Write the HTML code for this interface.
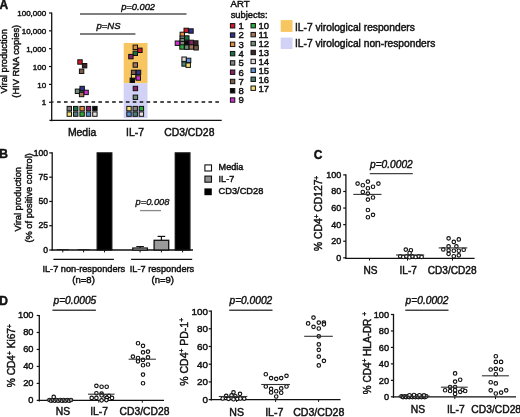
<!DOCTYPE html><html><head><meta charset="utf-8"><style>html,body{margin:0;padding:0;background:#fff;overflow:hidden;}svg{display:block;will-change:transform;filter:blur(0.45px);}text{font-family:"Liberation Sans", sans-serif;stroke:#111;}</style></head><body>
<svg width="520" height="417" viewBox="0 0 520 417">
<rect x="0" y="0" width="520" height="417" fill="#fff"/>
<text x="-0.5" y="8.6" font-size="12" text-anchor="start" font-weight="bold" fill="#111" style="stroke-width:0.45px">A</text>
<rect x="123.7" y="43" width="23.8" height="40.2" fill="#f8c660"/>
<rect x="123.7" y="83.2" width="23.8" height="35" fill="#d2d2f6"/>
<line x1="51.7" y1="12.4" x2="51.7" y2="121.3" stroke="#111" stroke-width="1.3"/>
<line x1="49.0" y1="13.0" x2="51.7" y2="13.0" stroke="#111" stroke-width="1.2"/>
<text x="46.2" y="16.2" font-size="8" text-anchor="end" fill="#111" style="stroke-width:0.45px">100,000</text>
<line x1="49.0" y1="30.85" x2="51.7" y2="30.85" stroke="#111" stroke-width="1.2"/>
<text x="46.2" y="34.050000000000004" font-size="8" text-anchor="end" fill="#111" style="stroke-width:0.45px">10,000</text>
<line x1="49.0" y1="48.7" x2="51.7" y2="48.7" stroke="#111" stroke-width="1.2"/>
<text x="46.2" y="51.900000000000006" font-size="8" text-anchor="end" fill="#111" style="stroke-width:0.45px">1,000</text>
<line x1="49.0" y1="66.55000000000001" x2="51.7" y2="66.55000000000001" stroke="#111" stroke-width="1.2"/>
<text x="46.2" y="69.75000000000001" font-size="8" text-anchor="end" fill="#111" style="stroke-width:0.45px">100</text>
<line x1="49.0" y1="84.4" x2="51.7" y2="84.4" stroke="#111" stroke-width="1.2"/>
<text x="46.2" y="87.60000000000001" font-size="8" text-anchor="end" fill="#111" style="stroke-width:0.45px">10</text>
<line x1="49.0" y1="102.25" x2="51.7" y2="102.25" stroke="#111" stroke-width="1.2"/>
<text x="46.2" y="105.45" font-size="8" text-anchor="end" fill="#111" style="stroke-width:0.45px">1</text>
<line x1="49.4" y1="120.3" x2="221.7" y2="120.3" stroke="#111" stroke-width="1.3"/>
<line x1="57.1" y1="102" x2="219.4" y2="102" stroke="#111" stroke-width="1.6" stroke-dasharray="3.6 3.28"/>
<line x1="51.7" y1="102" x2="53.6" y2="102" stroke="#111" stroke-width="1.2"/>
<text x="82.1" y="136.4" font-size="10.4" text-anchor="middle" fill="#111" style="stroke-width:0.45px">Media</text>
<text x="135" y="136.4" font-size="10.4" text-anchor="middle" fill="#111" style="stroke-width:0.45px">IL-7</text>
<text x="189.3" y="136.4" font-size="10.4" text-anchor="middle" fill="#111" style="stroke-width:0.45px">CD3/CD28</text>
<text x="7.2" y="61.3" font-size="9.3" text-anchor="middle" fill="#111" transform="rotate(-90 7.2 61.3)" style="stroke-width:0.45px">Viral production</text>
<text x="18.7" y="61.3" font-size="9.3" text-anchor="middle" fill="#111" transform="rotate(-90 18.7 61.3)" style="stroke-width:0.45px">(HIV RNA copies)</text>
<text x="138.1" y="10" font-size="9.3" text-anchor="middle" font-style="italic" fill="#111" style="stroke-width:0.4px">p=0.002</text>
<line x1="80" y1="14" x2="186.5" y2="14" stroke="#555" stroke-width="1.3"/>
<text x="108.5" y="28.6" font-size="9.5" text-anchor="middle" font-style="italic" fill="#111" style="stroke-width:0.4px">p=NS</text>
<line x1="80" y1="34" x2="135.4" y2="34" stroke="#555" stroke-width="1.3"/>
<rect x="77.80" y="59.80" width="4.4" height="4.4" fill="#d01a2a" stroke="#111" stroke-width="1"/>
<rect x="82.40" y="63.50" width="4.4" height="4.4" fill="#3a2626" stroke="#111" stroke-width="1"/>
<rect x="79.40" y="69.10" width="4.4" height="4.4" fill="#7a5c48" stroke="#111" stroke-width="1"/>
<rect x="79.30" y="89.30" width="4.4" height="4.4" fill="#1f7040" stroke="#111" stroke-width="1"/>
<rect x="79.95" y="86.30" width="4.4" height="4.4" fill="#2f3290" stroke="#111" stroke-width="1"/>
<rect x="75.30" y="89.10" width="4.4" height="4.4" fill="#6f8e78" stroke="#111" stroke-width="1"/>
<rect x="83.90" y="90.20" width="4.4" height="4.4" fill="#d030d0" stroke="#111" stroke-width="1"/>
<rect x="79.40" y="92.30" width="4.4" height="4.4" fill="#a87458" stroke="#111" stroke-width="1"/>
<rect x="67.10" y="106.40" width="4.4" height="4.4" fill="#858080" stroke="#111" stroke-width="1"/>
<rect x="73.50" y="106.40" width="4.4" height="4.4" fill="#1f7040" stroke="#111" stroke-width="1"/>
<rect x="79.90" y="106.40" width="4.4" height="4.4" fill="#e08a3c" stroke="#111" stroke-width="1"/>
<rect x="86.30" y="106.40" width="4.4" height="4.4" fill="#8a2068" stroke="#111" stroke-width="1"/>
<rect x="92.70" y="106.40" width="4.4" height="4.4" fill="#0a0a0a" stroke="#111" stroke-width="1"/>
<rect x="67.10" y="111.90" width="4.4" height="4.4" fill="#f2e070" stroke="#111" stroke-width="1"/>
<rect x="73.50" y="111.90" width="4.4" height="4.4" fill="#4e8078" stroke="#111" stroke-width="1"/>
<rect x="79.90" y="111.90" width="4.4" height="4.4" fill="#2faa3c" stroke="#111" stroke-width="1"/>
<rect x="86.30" y="111.90" width="4.4" height="4.4" fill="#5a92d2" stroke="#111" stroke-width="1"/>
<rect x="92.70" y="111.90" width="4.4" height="4.4" fill="#e4dcd8" stroke="#111" stroke-width="1"/>
<rect x="133.10" y="45.10" width="4.4" height="4.4" fill="#e08a3c" stroke="#111" stroke-width="1"/>
<rect x="137.70" y="48.10" width="4.4" height="4.4" fill="#d01a2a" stroke="#111" stroke-width="1"/>
<rect x="133.10" y="51.10" width="4.4" height="4.4" fill="#1f7040" stroke="#111" stroke-width="1"/>
<rect x="128.70" y="54.40" width="4.4" height="4.4" fill="#8a2068" stroke="#111" stroke-width="1"/>
<rect x="133.10" y="62.80" width="4.4" height="4.4" fill="#a87458" stroke="#111" stroke-width="1"/>
<rect x="131.40" y="70.20" width="4.4" height="4.4" fill="#7a5c48" stroke="#111" stroke-width="1"/>
<rect x="136.30" y="70.20" width="4.4" height="4.4" fill="#2f3290" stroke="#111" stroke-width="1"/>
<rect x="131.40" y="74.50" width="4.4" height="4.4" fill="#f2e070" stroke="#111" stroke-width="1"/>
<rect x="130.10" y="78.10" width="4.4" height="4.4" fill="#0a0a0a" stroke="#111" stroke-width="1"/>
<rect x="136.10" y="75.80" width="4.4" height="4.4" fill="#d030d0" stroke="#111" stroke-width="1"/>
<rect x="133.20" y="86.30" width="4.4" height="4.4" fill="#8a2068" stroke="#111" stroke-width="1"/>
<rect x="133.20" y="95.10" width="4.4" height="4.4" fill="#6f8e78" stroke="#111" stroke-width="1"/>
<rect x="126.80" y="106.40" width="4.4" height="4.4" fill="#f2e070" stroke="#111" stroke-width="1"/>
<rect x="133.00" y="106.40" width="4.4" height="4.4" fill="#858080" stroke="#111" stroke-width="1"/>
<rect x="139.20" y="106.40" width="4.4" height="4.4" fill="#2faa3c" stroke="#111" stroke-width="1"/>
<rect x="126.80" y="111.90" width="4.4" height="4.4" fill="#5a92d2" stroke="#111" stroke-width="1"/>
<rect x="133.00" y="111.90" width="4.4" height="4.4" fill="#4e8078" stroke="#111" stroke-width="1"/>
<rect x="139.20" y="111.90" width="4.4" height="4.4" fill="#e4dcd8" stroke="#111" stroke-width="1"/>
<rect x="184.00" y="28.20" width="4.4" height="4.4" fill="#d01a2a" stroke="#111" stroke-width="1"/>
<rect x="188.80" y="28.80" width="4.4" height="4.4" fill="#2f3290" stroke="#111" stroke-width="1"/>
<rect x="180.10" y="32.20" width="4.4" height="4.4" fill="#e08a3c" stroke="#111" stroke-width="1"/>
<rect x="180.10" y="36.00" width="4.4" height="4.4" fill="#858080" stroke="#111" stroke-width="1"/>
<rect x="184.60" y="35.80" width="4.4" height="4.4" fill="#1f7040" stroke="#111" stroke-width="1"/>
<rect x="180.10" y="38.40" width="4.4" height="4.4" fill="#6f8e78" stroke="#111" stroke-width="1"/>
<rect x="175.20" y="41.00" width="4.4" height="4.4" fill="#d030d0" stroke="#111" stroke-width="1"/>
<rect x="180.10" y="41.40" width="4.4" height="4.4" fill="#858080" stroke="#111" stroke-width="1"/>
<rect x="184.60" y="40.80" width="4.4" height="4.4" fill="#0a0a0a" stroke="#111" stroke-width="1"/>
<rect x="189.10" y="40.20" width="4.4" height="4.4" fill="#8a2068" stroke="#111" stroke-width="1"/>
<rect x="193.60" y="40.80" width="4.4" height="4.4" fill="#3a2626" stroke="#111" stroke-width="1"/>
<rect x="179.80" y="44.80" width="4.4" height="4.4" fill="#2faa3c" stroke="#111" stroke-width="1"/>
<rect x="184.60" y="45.00" width="4.4" height="4.4" fill="#6f8e78" stroke="#111" stroke-width="1"/>
<rect x="189.10" y="44.80" width="4.4" height="4.4" fill="#a87458" stroke="#111" stroke-width="1"/>
<rect x="193.90" y="45.60" width="4.4" height="4.4" fill="#7a5c48" stroke="#111" stroke-width="1"/>
<rect x="181.90" y="57.00" width="4.4" height="4.4" fill="#e4dcd8" stroke="#111" stroke-width="1"/>
<rect x="186.40" y="58.20" width="4.4" height="4.4" fill="#5a92d2" stroke="#111" stroke-width="1"/>
<rect x="181.90" y="61.80" width="4.4" height="4.4" fill="#4e8078" stroke="#111" stroke-width="1"/>
<rect x="186.00" y="63.00" width="4.4" height="4.4" fill="#f2e070" stroke="#111" stroke-width="1"/>
<text x="230.6" y="7" font-size="9.6" text-anchor="start" fill="#111" style="stroke-width:0.45px">ART</text>
<text x="230.7" y="17.6" font-size="9.35" text-anchor="start" fill="#111" style="stroke-width:0.45px">subjects:</text>
<rect x="230.40" y="23.60" width="4.4" height="4.4" fill="#d01a2a" stroke="#111" stroke-width="1"/>
<text x="238.4" y="29.1" font-size="9.5" text-anchor="start" fill="#111" style="stroke-width:0.45px">1</text>
<rect x="230.40" y="32.88" width="4.4" height="4.4" fill="#2f3290" stroke="#111" stroke-width="1"/>
<text x="238.4" y="38.379999999999995" font-size="9.5" text-anchor="start" fill="#111" style="stroke-width:0.45px">2</text>
<rect x="230.40" y="42.16" width="4.4" height="4.4" fill="#e08a3c" stroke="#111" stroke-width="1"/>
<text x="238.4" y="47.66" font-size="9.5" text-anchor="start" fill="#111" style="stroke-width:0.45px">3</text>
<rect x="230.40" y="51.44" width="4.4" height="4.4" fill="#1f7040" stroke="#111" stroke-width="1"/>
<text x="238.4" y="56.94" font-size="9.5" text-anchor="start" fill="#111" style="stroke-width:0.45px">4</text>
<rect x="230.40" y="60.72" width="4.4" height="4.4" fill="#858080" stroke="#111" stroke-width="1"/>
<text x="238.4" y="66.22" font-size="9.5" text-anchor="start" fill="#111" style="stroke-width:0.45px">5</text>
<rect x="230.40" y="70.00" width="4.4" height="4.4" fill="#8a2068" stroke="#111" stroke-width="1"/>
<text x="238.4" y="75.5" font-size="9.5" text-anchor="start" fill="#111" style="stroke-width:0.45px">6</text>
<rect x="230.40" y="79.28" width="4.4" height="4.4" fill="#7a5c48" stroke="#111" stroke-width="1"/>
<text x="238.4" y="84.77999999999999" font-size="9.5" text-anchor="start" fill="#111" style="stroke-width:0.45px">7</text>
<rect x="230.40" y="88.56" width="4.4" height="4.4" fill="#0a0a0a" stroke="#111" stroke-width="1"/>
<text x="238.4" y="94.05999999999999" font-size="9.5" text-anchor="start" fill="#111" style="stroke-width:0.45px">8</text>
<rect x="230.40" y="97.84" width="4.4" height="4.4" fill="#d030d0" stroke="#111" stroke-width="1"/>
<text x="238.4" y="103.33999999999999" font-size="9.5" text-anchor="start" fill="#111" style="stroke-width:0.45px">9</text>
<rect x="251.00" y="23.50" width="4.4" height="4.4" fill="#2faa3c" stroke="#111" stroke-width="1"/>
<text x="258.4" y="29.0" font-size="9.5" text-anchor="start" fill="#111" style="stroke-width:0.45px">10</text>
<rect x="251.00" y="32.43" width="4.4" height="4.4" fill="#a87458" stroke="#111" stroke-width="1"/>
<text x="258.4" y="37.92999999999999" font-size="9.5" text-anchor="start" fill="#111" style="stroke-width:0.45px">11</text>
<rect x="251.00" y="41.36" width="4.4" height="4.4" fill="#6f8e78" stroke="#111" stroke-width="1"/>
<text x="258.4" y="46.86" font-size="9.5" text-anchor="start" fill="#111" style="stroke-width:0.45px">12</text>
<rect x="251.00" y="50.29" width="4.4" height="4.4" fill="#3a2626" stroke="#111" stroke-width="1"/>
<text x="258.4" y="55.78999999999999" font-size="9.5" text-anchor="start" fill="#111" style="stroke-width:0.45px">13</text>
<rect x="251.00" y="59.22" width="4.4" height="4.4" fill="#e4dcd8" stroke="#111" stroke-width="1"/>
<text x="258.4" y="64.72" font-size="9.5" text-anchor="start" fill="#111" style="stroke-width:0.45px">14</text>
<rect x="251.00" y="68.15" width="4.4" height="4.4" fill="#5a92d2" stroke="#111" stroke-width="1"/>
<text x="258.4" y="73.64999999999999" font-size="9.5" text-anchor="start" fill="#111" style="stroke-width:0.45px">15</text>
<rect x="251.00" y="77.08" width="4.4" height="4.4" fill="#4e8078" stroke="#111" stroke-width="1"/>
<text x="258.4" y="82.58" font-size="9.5" text-anchor="start" fill="#111" style="stroke-width:0.45px">16</text>
<rect x="251.00" y="86.01" width="4.4" height="4.4" fill="#f2e070" stroke="#111" stroke-width="1"/>
<text x="258.4" y="91.50999999999999" font-size="9.5" text-anchor="start" fill="#111" style="stroke-width:0.45px">17</text>
<rect x="280.7" y="20.1" width="11.8" height="11.8" fill="#f8c660"/>
<text x="295" y="30.9" font-size="10.22" text-anchor="start" fill="#111" style="stroke-width:0.45px">IL-7 virological responders</text>
<rect x="280.7" y="37.6" width="11.8" height="11.4" fill="#d2d2f6"/>
<text x="295" y="47.4" font-size="10.22" text-anchor="start" fill="#111" style="stroke-width:0.45px">IL-7 virological non-responders</text>
<text x="-0.8" y="158.1" font-size="12" text-anchor="start" font-weight="bold" fill="#111" style="stroke-width:0.45px">B</text>
<line x1="52.2" y1="152.3" x2="52.2" y2="250.6" stroke="#111" stroke-width="1.3"/>
<line x1="49.2" y1="250.0" x2="52.2" y2="250.0" stroke="#111" stroke-width="1.2"/>
<text x="48" y="252.6" font-size="8.5" text-anchor="end" fill="#111" style="stroke-width:0.45px">0</text>
<line x1="49.2" y1="225.725" x2="52.2" y2="225.725" stroke="#111" stroke-width="1.2"/>
<text x="48" y="228.325" font-size="8.5" text-anchor="end" fill="#111" style="stroke-width:0.45px">25</text>
<line x1="49.2" y1="201.45" x2="52.2" y2="201.45" stroke="#111" stroke-width="1.2"/>
<text x="48" y="204.04999999999998" font-size="8.5" text-anchor="end" fill="#111" style="stroke-width:0.45px">50</text>
<line x1="49.2" y1="177.175" x2="52.2" y2="177.175" stroke="#111" stroke-width="1.2"/>
<text x="48" y="179.775" font-size="8.5" text-anchor="end" fill="#111" style="stroke-width:0.45px">75</text>
<line x1="49.2" y1="152.9" x2="52.2" y2="152.9" stroke="#111" stroke-width="1.2"/>
<text x="48" y="155.5" font-size="8.5" text-anchor="end" fill="#111" style="stroke-width:0.45px">100</text>
<line x1="51.6" y1="250" x2="193" y2="250" stroke="#111" stroke-width="1.3"/>
<line x1="56.8" y1="249.6" x2="68.8" y2="249.6" stroke="#111" stroke-width="0.8"/>
<line x1="77.6" y1="249.6" x2="89.6" y2="249.6" stroke="#111" stroke-width="0.8"/>
<rect x="97.20" y="152.90" width="14.6" height="97.10" fill="#000" stroke="#111" stroke-width="1.3"/>
<rect x="132.80" y="248.06" width="14.6" height="1.94" fill="#fff" stroke="#111" stroke-width="1.3"/>
<line x1="140.1" y1="248.058" x2="140.1" y2="246.6015" stroke="#111" stroke-width="1.2"/>
<line x1="136.29999999999998" y1="246.6015" x2="143.9" y2="246.6015" stroke="#111" stroke-width="1.2"/>
<rect x="154.10" y="240.29" width="14.6" height="9.71" fill="#9a9a9a" stroke="#111" stroke-width="1.3"/>
<line x1="161.4" y1="240.29" x2="161.4" y2="236.406" stroke="#111" stroke-width="1.2"/>
<line x1="157.6" y1="236.406" x2="165.20000000000002" y2="236.406" stroke="#111" stroke-width="1.2"/>
<rect x="175.30" y="152.90" width="14.6" height="97.10" fill="#000" stroke="#111" stroke-width="1.3"/>
<line x1="62.8" y1="250" x2="62.8" y2="252.4" stroke="#111" stroke-width="1"/>
<line x1="83.6" y1="250" x2="83.6" y2="252.4" stroke="#111" stroke-width="1"/>
<line x1="104.5" y1="250" x2="104.5" y2="252.4" stroke="#111" stroke-width="1"/>
<line x1="140.1" y1="250" x2="140.1" y2="252.4" stroke="#111" stroke-width="1"/>
<line x1="161.4" y1="250" x2="161.4" y2="252.4" stroke="#111" stroke-width="1"/>
<line x1="182.6" y1="250" x2="182.6" y2="252.4" stroke="#111" stroke-width="1"/>
<line x1="53.4" y1="259.4" x2="113.9" y2="259.4" stroke="#111" stroke-width="1.3"/>
<line x1="131.1" y1="259.3" x2="192.2" y2="259.3" stroke="#111" stroke-width="1.3"/>
<text x="83.8" y="272.3" font-size="9.2" text-anchor="middle" fill="#111" style="stroke-width:0.45px">IL-7 non-responders</text>
<text x="83.6" y="282.5" font-size="9.5" text-anchor="middle" fill="#111" style="stroke-width:0.45px">(n=8)</text>
<text x="162" y="272.3" font-size="9.2" text-anchor="middle" fill="#111" style="stroke-width:0.45px">IL-7 responders</text>
<text x="162.7" y="282.5" font-size="9.5" text-anchor="middle" fill="#111" style="stroke-width:0.45px">(n=9)</text>
<text x="152.5" y="204.6" font-size="9.3" text-anchor="middle" font-style="italic" fill="#111" style="stroke-width:0.35px">p=0.008</text>
<line x1="140.1" y1="210.6" x2="161" y2="210.6" stroke="#888" stroke-width="1.3"/>
<text x="20.8" y="199.2" font-size="9.3" text-anchor="middle" fill="#111" transform="rotate(-90 20.8 199.2)" style="stroke-width:0.45px">Viral production</text>
<text x="31.6" y="197.9" font-size="9.3" text-anchor="middle" fill="#111" transform="rotate(-90 31.6 197.9)" style="stroke-width:0.45px">(% of positive control)</text>
<rect x="204.9" y="164.9" width="6.6" height="6.1" fill="#fff" stroke="#111" stroke-width="1.1"/>
<text x="218.6" y="170.3" font-size="9.1" text-anchor="start" fill="#111" style="stroke-width:0.45px">Media</text>
<rect x="204.9" y="176.1" width="6.6" height="6.1" fill="#909090" stroke="#111" stroke-width="1.1"/>
<text x="218.6" y="182" font-size="9.1" text-anchor="start" fill="#111" style="stroke-width:0.45px">IL-7</text>
<rect x="204.4" y="188.4" width="7.4" height="6.8" fill="#000"/>
<text x="218.6" y="194.2" font-size="9.25" text-anchor="start" fill="#111" style="stroke-width:0.45px">CD3/CD28</text>
<text x="313.8" y="158.8" font-size="12" text-anchor="start" font-weight="bold" fill="#111" style="stroke-width:0.45px">C</text>
<line x1="345.9" y1="174.3" x2="345.9" y2="258.8" stroke="#111" stroke-width="1.3"/>
<line x1="343.2" y1="257.8" x2="345.9" y2="257.8" stroke="#111" stroke-width="1.2"/>
<text x="341.2" y="260.8" font-size="9" text-anchor="end" fill="#111" style="stroke-width:0.45px">0</text>
<line x1="343.2" y1="241.22000000000003" x2="345.9" y2="241.22000000000003" stroke="#111" stroke-width="1.2"/>
<text x="341.2" y="244.22000000000003" font-size="9" text-anchor="end" fill="#111" style="stroke-width:0.45px">20</text>
<line x1="343.2" y1="224.64000000000001" x2="345.9" y2="224.64000000000001" stroke="#111" stroke-width="1.2"/>
<text x="341.2" y="227.64000000000001" font-size="9" text-anchor="end" fill="#111" style="stroke-width:0.45px">40</text>
<line x1="343.2" y1="208.06" x2="345.9" y2="208.06" stroke="#111" stroke-width="1.2"/>
<text x="341.2" y="211.06" font-size="9" text-anchor="end" fill="#111" style="stroke-width:0.45px">60</text>
<line x1="343.2" y1="191.48000000000002" x2="345.9" y2="191.48000000000002" stroke="#111" stroke-width="1.2"/>
<text x="341.2" y="194.48000000000002" font-size="9" text-anchor="end" fill="#111" style="stroke-width:0.45px">80</text>
<line x1="343.2" y1="174.90000000000003" x2="345.9" y2="174.90000000000003" stroke="#111" stroke-width="1.2"/>
<text x="341.2" y="177.90000000000003" font-size="9" text-anchor="end" fill="#111" style="stroke-width:0.45px">100</text>
<line x1="345.29999999999995" y1="258.3" x2="474.6" y2="258.3" stroke="#111" stroke-width="1.3"/>
<line x1="369.5" y1="258.3" x2="369.5" y2="260.6" stroke="#111" stroke-width="1"/>
<line x1="407.5" y1="258.3" x2="407.5" y2="260.6" stroke="#111" stroke-width="1"/>
<line x1="452.5" y1="258.3" x2="452.5" y2="260.6" stroke="#111" stroke-width="1"/>
<text x="370.5" y="274.3" font-size="10.1" text-anchor="middle" fill="#111" style="stroke-width:0.45px">NS</text>
<text x="408.2" y="274.3" font-size="10.1" text-anchor="middle" fill="#111" style="stroke-width:0.45px">IL-7</text>
<text x="452.2" y="274.3" font-size="10.1" text-anchor="middle" fill="#111" style="stroke-width:0.45px">CD3/CD28</text>
<text x="322.3" y="213.4" font-size="10.3" text-anchor="middle" fill="#111" transform="rotate(-90 322.3 213.4)" style="stroke-width:0.45px">% CD4<tspan font-size="6.5" dy="-3.7">+</tspan><tspan dy="3.7"> CD127</tspan><tspan font-size="6.5" dy="-3.7">+</tspan></text>
<text x="391.4" y="167.7" font-size="10.2" text-anchor="middle" font-style="italic" fill="#111" style="stroke-width:0.42px">p=0.0002</text>
<line x1="369.8" y1="173.6" x2="412.8" y2="173.6" stroke="#444" stroke-width="1.4"/>
<circle cx="357.60" cy="183.60" r="1.75" fill="#fff" stroke="#111" stroke-width="1.15"/>
<circle cx="362.80" cy="185.20" r="1.75" fill="#fff" stroke="#111" stroke-width="1.15"/>
<circle cx="367.90" cy="181.60" r="1.75" fill="#fff" stroke="#111" stroke-width="1.15"/>
<circle cx="378.40" cy="183.60" r="1.75" fill="#fff" stroke="#111" stroke-width="1.15"/>
<circle cx="367.90" cy="188.20" r="1.75" fill="#fff" stroke="#111" stroke-width="1.15"/>
<circle cx="373.00" cy="186.70" r="1.75" fill="#fff" stroke="#111" stroke-width="1.15"/>
<circle cx="362.80" cy="192.00" r="1.75" fill="#fff" stroke="#111" stroke-width="1.15"/>
<circle cx="367.90" cy="193.60" r="1.75" fill="#fff" stroke="#111" stroke-width="1.15"/>
<circle cx="373.00" cy="197.50" r="1.75" fill="#fff" stroke="#111" stroke-width="1.15"/>
<circle cx="367.90" cy="199.60" r="1.75" fill="#fff" stroke="#111" stroke-width="1.15"/>
<circle cx="367.90" cy="210.00" r="1.75" fill="#fff" stroke="#111" stroke-width="1.15"/>
<circle cx="373.00" cy="214.80" r="1.75" fill="#fff" stroke="#111" stroke-width="1.15"/>
<circle cx="367.90" cy="217.20" r="1.75" fill="#fff" stroke="#111" stroke-width="1.15"/>
<line x1="353.3" y1="194.4" x2="381.5" y2="194.4" stroke="#333" stroke-width="1.1"/>
<circle cx="405.80" cy="249.60" r="1.75" fill="#fff" stroke="#111" stroke-width="1.15"/>
<circle cx="410.90" cy="250.20" r="1.75" fill="#fff" stroke="#111" stroke-width="1.15"/>
<circle cx="409.60" cy="253.00" r="1.75" fill="#fff" stroke="#111" stroke-width="1.15"/>
<circle cx="400.20" cy="256.20" r="1.75" fill="#fff" stroke="#111" stroke-width="1.15"/>
<circle cx="403.30" cy="257.00" r="1.75" fill="#fff" stroke="#111" stroke-width="1.15"/>
<circle cx="406.40" cy="256.30" r="1.75" fill="#fff" stroke="#111" stroke-width="1.15"/>
<circle cx="409.50" cy="257.20" r="1.75" fill="#fff" stroke="#111" stroke-width="1.15"/>
<circle cx="412.60" cy="256.40" r="1.75" fill="#fff" stroke="#111" stroke-width="1.15"/>
<circle cx="415.70" cy="257.00" r="1.75" fill="#fff" stroke="#111" stroke-width="1.15"/>
<circle cx="418.80" cy="256.20" r="1.75" fill="#fff" stroke="#111" stroke-width="1.15"/>
<circle cx="421.60" cy="256.90" r="1.75" fill="#fff" stroke="#111" stroke-width="1.15"/>
<line x1="396" y1="255" x2="424.2" y2="255" stroke="#333" stroke-width="1.1"/>
<circle cx="448.60" cy="238.30" r="1.75" fill="#fff" stroke="#111" stroke-width="1.15"/>
<circle cx="458.80" cy="239.40" r="1.75" fill="#fff" stroke="#111" stroke-width="1.15"/>
<circle cx="453.80" cy="241.90" r="1.75" fill="#fff" stroke="#111" stroke-width="1.15"/>
<circle cx="448.60" cy="246.30" r="1.75" fill="#fff" stroke="#111" stroke-width="1.15"/>
<circle cx="456.40" cy="246.30" r="1.75" fill="#fff" stroke="#111" stroke-width="1.15"/>
<circle cx="443.30" cy="249.40" r="1.75" fill="#fff" stroke="#111" stroke-width="1.15"/>
<circle cx="448.60" cy="250.30" r="1.75" fill="#fff" stroke="#111" stroke-width="1.15"/>
<circle cx="453.80" cy="250.70" r="1.75" fill="#fff" stroke="#111" stroke-width="1.15"/>
<circle cx="458.80" cy="250.70" r="1.75" fill="#fff" stroke="#111" stroke-width="1.15"/>
<circle cx="463.70" cy="249.70" r="1.75" fill="#fff" stroke="#111" stroke-width="1.15"/>
<circle cx="448.60" cy="253.80" r="1.75" fill="#fff" stroke="#111" stroke-width="1.15"/>
<circle cx="453.80" cy="256.20" r="1.75" fill="#fff" stroke="#111" stroke-width="1.15"/>
<circle cx="458.80" cy="255.30" r="1.75" fill="#fff" stroke="#111" stroke-width="1.15"/>
<line x1="438.7" y1="247.9" x2="467.3" y2="247.9" stroke="#333" stroke-width="1.1"/>
<text x="-0.8" y="305.1" font-size="12" text-anchor="start" font-weight="bold" fill="#111" style="stroke-width:0.45px">D</text>
<line x1="39.3" y1="314.9" x2="39.3" y2="401.4" stroke="#111" stroke-width="1.3"/>
<line x1="36.699999999999996" y1="400.4" x2="39.3" y2="400.4" stroke="#111" stroke-width="1.2"/>
<text x="33.5" y="402.7" font-size="9.3" text-anchor="end" fill="#111" style="stroke-width:0.45px">0</text>
<line x1="36.699999999999996" y1="383.41999999999996" x2="39.3" y2="383.41999999999996" stroke="#111" stroke-width="1.2"/>
<text x="33.5" y="385.71999999999997" font-size="9.3" text-anchor="end" fill="#111" style="stroke-width:0.45px">20</text>
<line x1="36.699999999999996" y1="366.44" x2="39.3" y2="366.44" stroke="#111" stroke-width="1.2"/>
<text x="33.5" y="368.74" font-size="9.3" text-anchor="end" fill="#111" style="stroke-width:0.45px">40</text>
<line x1="36.699999999999996" y1="349.46" x2="39.3" y2="349.46" stroke="#111" stroke-width="1.2"/>
<text x="33.5" y="351.76" font-size="9.3" text-anchor="end" fill="#111" style="stroke-width:0.45px">60</text>
<line x1="36.699999999999996" y1="332.48" x2="39.3" y2="332.48" stroke="#111" stroke-width="1.2"/>
<text x="33.5" y="334.78000000000003" font-size="9.3" text-anchor="end" fill="#111" style="stroke-width:0.45px">80</text>
<line x1="36.699999999999996" y1="315.5" x2="39.3" y2="315.5" stroke="#111" stroke-width="1.2"/>
<text x="33.5" y="317.8" font-size="9.3" text-anchor="end" fill="#111" style="stroke-width:0.45px">100</text>
<line x1="38.699999999999996" y1="400.4" x2="164" y2="400.4" stroke="#111" stroke-width="1.3"/>
<line x1="63.3" y1="400.4" x2="63.3" y2="402.7" stroke="#111" stroke-width="1"/>
<line x1="98.8" y1="400.4" x2="98.8" y2="402.7" stroke="#111" stroke-width="1"/>
<line x1="142.3" y1="400.4" x2="142.3" y2="402.7" stroke="#111" stroke-width="1"/>
<text x="63" y="415.4" font-size="10.3" text-anchor="middle" fill="#111" style="stroke-width:0.45px">NS</text>
<text x="99" y="415.4" font-size="10.3" text-anchor="middle" fill="#111" style="stroke-width:0.45px">IL-7</text>
<text x="144.5" y="415.4" font-size="10.3" text-anchor="middle" fill="#111" style="stroke-width:0.45px">CD3/CD28</text>
<text x="74.9" y="304" font-size="10.2" text-anchor="middle" font-style="italic" fill="#111" style="stroke-width:0.42px">p=0.0005</text>
<line x1="52.4" y1="310.2" x2="95.9" y2="310.2" stroke="#444" stroke-width="1.4"/>
<text x="15.3" y="355.7" font-size="10.2" text-anchor="middle" fill="#111" transform="rotate(-90 15.3 355.7)" style="stroke-width:0.45px">% CD4<tspan font-size="6.5" dy="-3.7">+</tspan><tspan dy="3.7"> Ki67</tspan><tspan font-size="6.5" dy="-3.7">+</tspan></text>
<line x1="211.3" y1="310.5" x2="211.3" y2="400.6" stroke="#111" stroke-width="1.3"/>
<line x1="208.70000000000002" y1="399.6" x2="211.3" y2="399.6" stroke="#111" stroke-width="1.2"/>
<text x="208.0" y="403.0" font-size="9.9" text-anchor="end" fill="#111" style="stroke-width:0.45px">0</text>
<line x1="208.70000000000002" y1="381.90000000000003" x2="211.3" y2="381.90000000000003" stroke="#111" stroke-width="1.2"/>
<text x="208.0" y="385.3" font-size="9.9" text-anchor="end" fill="#111" style="stroke-width:0.45px">20</text>
<line x1="208.70000000000002" y1="364.20000000000005" x2="211.3" y2="364.20000000000005" stroke="#111" stroke-width="1.2"/>
<text x="208.0" y="367.6" font-size="9.9" text-anchor="end" fill="#111" style="stroke-width:0.45px">40</text>
<line x1="208.70000000000002" y1="346.5" x2="211.3" y2="346.5" stroke="#111" stroke-width="1.2"/>
<text x="208.0" y="349.9" font-size="9.9" text-anchor="end" fill="#111" style="stroke-width:0.45px">60</text>
<line x1="208.70000000000002" y1="328.8" x2="211.3" y2="328.8" stroke="#111" stroke-width="1.2"/>
<text x="208.0" y="332.2" font-size="9.9" text-anchor="end" fill="#111" style="stroke-width:0.45px">80</text>
<line x1="208.70000000000002" y1="311.1" x2="211.3" y2="311.1" stroke="#111" stroke-width="1.2"/>
<text x="208.0" y="314.5" font-size="9.9" text-anchor="end" fill="#111" style="stroke-width:0.45px">100</text>
<line x1="210.70000000000002" y1="399.6" x2="340.5" y2="399.6" stroke="#111" stroke-width="1.3"/>
<line x1="236.5" y1="399.6" x2="236.5" y2="401.90000000000003" stroke="#111" stroke-width="1"/>
<line x1="275.6" y1="399.6" x2="275.6" y2="401.90000000000003" stroke="#111" stroke-width="1"/>
<line x1="318.6" y1="399.6" x2="318.6" y2="401.90000000000003" stroke="#111" stroke-width="1"/>
<text x="236.7" y="415.8" font-size="10.6" text-anchor="middle" fill="#111" style="stroke-width:0.45px">NS</text>
<text x="274.3" y="415.8" font-size="10.6" text-anchor="middle" fill="#111" style="stroke-width:0.45px">IL-7</text>
<text x="318.8" y="415.8" font-size="10.6" text-anchor="middle" fill="#111" style="stroke-width:0.45px">CD3/CD28</text>
<text x="250.9" y="304" font-size="10.2" text-anchor="middle" font-style="italic" fill="#111" style="stroke-width:0.42px">p=0.0002</text>
<line x1="229.2" y1="310.2" x2="272.5" y2="310.2" stroke="#444" stroke-width="1.4"/>
<text x="188.2" y="351.9" font-size="10.5" text-anchor="middle" fill="#111" transform="rotate(-90 188.2 351.9)" style="stroke-width:0.45px">% CD4<tspan font-size="6.5" dy="-3.7">+</tspan><tspan dy="3.7"> PD-1</tspan><tspan font-size="6.5" dy="-3.7">+</tspan></text>
<line x1="393.5" y1="313.9" x2="393.5" y2="397.8" stroke="#111" stroke-width="1.3"/>
<line x1="390.9" y1="396.8" x2="393.5" y2="396.8" stroke="#111" stroke-width="1.2"/>
<text x="389.1" y="400.0" font-size="9.2" text-anchor="end" fill="#111" style="stroke-width:0.45px">0</text>
<line x1="390.9" y1="380.34000000000003" x2="393.5" y2="380.34000000000003" stroke="#111" stroke-width="1.2"/>
<text x="389.1" y="383.54" font-size="9.2" text-anchor="end" fill="#111" style="stroke-width:0.45px">20</text>
<line x1="390.9" y1="363.88" x2="393.5" y2="363.88" stroke="#111" stroke-width="1.2"/>
<text x="389.1" y="367.08" font-size="9.2" text-anchor="end" fill="#111" style="stroke-width:0.45px">40</text>
<line x1="390.9" y1="347.42" x2="393.5" y2="347.42" stroke="#111" stroke-width="1.2"/>
<text x="389.1" y="350.62" font-size="9.2" text-anchor="end" fill="#111" style="stroke-width:0.45px">60</text>
<line x1="390.9" y1="330.96000000000004" x2="393.5" y2="330.96000000000004" stroke="#111" stroke-width="1.2"/>
<text x="389.1" y="334.16" font-size="9.2" text-anchor="end" fill="#111" style="stroke-width:0.45px">80</text>
<line x1="390.9" y1="314.5" x2="393.5" y2="314.5" stroke="#111" stroke-width="1.2"/>
<text x="389.1" y="317.7" font-size="9.2" text-anchor="end" fill="#111" style="stroke-width:0.45px">100</text>
<line x1="392.9" y1="396.8" x2="516" y2="396.8" stroke="#111" stroke-width="1.3"/>
<line x1="418" y1="396.8" x2="418" y2="399.1" stroke="#111" stroke-width="1"/>
<line x1="454.8" y1="396.8" x2="454.8" y2="399.1" stroke="#111" stroke-width="1"/>
<line x1="495.5" y1="396.8" x2="495.5" y2="399.1" stroke="#111" stroke-width="1"/>
<text x="418" y="412.6" font-size="10.3" text-anchor="middle" fill="#111" style="stroke-width:0.45px">NS</text>
<text x="455.8" y="412.6" font-size="10.3" text-anchor="middle" fill="#111" style="stroke-width:0.45px">IL-7</text>
<text x="496.2" y="412.6" font-size="10.3" text-anchor="middle" fill="#111" style="stroke-width:0.45px">CD3/CD28</text>
<text x="427" y="304" font-size="10.2" text-anchor="middle" font-style="italic" fill="#111" style="stroke-width:0.42px">p=0.0002</text>
<line x1="405.3" y1="310.2" x2="448.5" y2="310.2" stroke="#444" stroke-width="1.4"/>
<text x="371" y="353.1" font-size="10" text-anchor="middle" fill="#111" transform="rotate(-90 371 353.1)" style="stroke-width:0.45px">% CD4<tspan font-size="6.5" dy="-3.7">+</tspan><tspan dy="3.7"> HLA-DR </tspan><tspan font-size="6.5" dy="-3.7">+</tspan></text>
<circle cx="49.40" cy="400.00" r="1.75" fill="#fff" stroke="#111" stroke-width="1.15"/>
<circle cx="51.20" cy="400.70" r="1.75" fill="#fff" stroke="#111" stroke-width="1.15"/>
<circle cx="53.00" cy="400.00" r="1.75" fill="#fff" stroke="#111" stroke-width="1.15"/>
<circle cx="54.80" cy="400.70" r="1.75" fill="#fff" stroke="#111" stroke-width="1.15"/>
<circle cx="56.60" cy="400.00" r="1.75" fill="#fff" stroke="#111" stroke-width="1.15"/>
<circle cx="58.40" cy="400.70" r="1.75" fill="#fff" stroke="#111" stroke-width="1.15"/>
<circle cx="60.20" cy="400.00" r="1.75" fill="#fff" stroke="#111" stroke-width="1.15"/>
<circle cx="62.00" cy="400.70" r="1.75" fill="#fff" stroke="#111" stroke-width="1.15"/>
<circle cx="63.80" cy="400.00" r="1.75" fill="#fff" stroke="#111" stroke-width="1.15"/>
<circle cx="65.60" cy="400.70" r="1.75" fill="#fff" stroke="#111" stroke-width="1.15"/>
<circle cx="67.40" cy="400.00" r="1.75" fill="#fff" stroke="#111" stroke-width="1.15"/>
<circle cx="69.20" cy="400.70" r="1.75" fill="#fff" stroke="#111" stroke-width="1.15"/>
<circle cx="71.00" cy="400.00" r="1.75" fill="#fff" stroke="#111" stroke-width="1.15"/>
<circle cx="53.70" cy="396.90" r="1.75" fill="#fff" stroke="#111" stroke-width="1.15"/>
<circle cx="96.40" cy="385.80" r="1.75" fill="#fff" stroke="#111" stroke-width="1.15"/>
<circle cx="101.60" cy="386.70" r="1.75" fill="#fff" stroke="#111" stroke-width="1.15"/>
<circle cx="106.70" cy="386.70" r="1.75" fill="#fff" stroke="#111" stroke-width="1.15"/>
<circle cx="96.40" cy="393.20" r="1.75" fill="#fff" stroke="#111" stroke-width="1.15"/>
<circle cx="101.60" cy="393.60" r="1.75" fill="#fff" stroke="#111" stroke-width="1.15"/>
<circle cx="101.60" cy="395.30" r="1.75" fill="#fff" stroke="#111" stroke-width="1.15"/>
<circle cx="105.50" cy="396.20" r="1.75" fill="#fff" stroke="#111" stroke-width="1.15"/>
<circle cx="109.00" cy="395.80" r="1.75" fill="#fff" stroke="#111" stroke-width="1.15"/>
<circle cx="91.70" cy="397.90" r="1.75" fill="#fff" stroke="#111" stroke-width="1.15"/>
<circle cx="96.40" cy="397.90" r="1.75" fill="#fff" stroke="#111" stroke-width="1.15"/>
<circle cx="106.80" cy="397.90" r="1.75" fill="#fff" stroke="#111" stroke-width="1.15"/>
<circle cx="112.00" cy="397.90" r="1.75" fill="#fff" stroke="#111" stroke-width="1.15"/>
<circle cx="101.60" cy="400.30" r="1.75" fill="#fff" stroke="#111" stroke-width="1.15"/>
<circle cx="106.40" cy="400.10" r="1.75" fill="#fff" stroke="#111" stroke-width="1.15"/>
<circle cx="138.00" cy="343.20" r="1.75" fill="#fff" stroke="#111" stroke-width="1.15"/>
<circle cx="143.00" cy="345.80" r="1.75" fill="#fff" stroke="#111" stroke-width="1.15"/>
<circle cx="143.00" cy="352.30" r="1.75" fill="#fff" stroke="#111" stroke-width="1.15"/>
<circle cx="148.00" cy="351.60" r="1.75" fill="#fff" stroke="#111" stroke-width="1.15"/>
<circle cx="132.90" cy="356.60" r="1.75" fill="#fff" stroke="#111" stroke-width="1.15"/>
<circle cx="138.00" cy="358.00" r="1.75" fill="#fff" stroke="#111" stroke-width="1.15"/>
<circle cx="148.00" cy="357.30" r="1.75" fill="#fff" stroke="#111" stroke-width="1.15"/>
<circle cx="143.00" cy="359.90" r="1.75" fill="#fff" stroke="#111" stroke-width="1.15"/>
<circle cx="138.00" cy="361.30" r="1.75" fill="#fff" stroke="#111" stroke-width="1.15"/>
<circle cx="143.00" cy="365.20" r="1.75" fill="#fff" stroke="#111" stroke-width="1.15"/>
<circle cx="148.00" cy="364.50" r="1.75" fill="#fff" stroke="#111" stroke-width="1.15"/>
<circle cx="143.00" cy="374.60" r="1.75" fill="#fff" stroke="#111" stroke-width="1.15"/>
<circle cx="143.00" cy="383.20" r="1.75" fill="#fff" stroke="#111" stroke-width="1.15"/>
<line x1="46.5" y1="400" x2="73.2" y2="400" stroke="#333" stroke-width="1.1"/>
<line x1="88" y1="394.2" x2="114.6" y2="394.2" stroke="#333" stroke-width="1.1"/>
<line x1="128.6" y1="359.2" x2="155.9" y2="359.2" stroke="#333" stroke-width="1.1"/>
<circle cx="233.50" cy="392.30" r="1.75" fill="#fff" stroke="#111" stroke-width="1.15"/>
<circle cx="240.00" cy="393.80" r="1.75" fill="#fff" stroke="#111" stroke-width="1.15"/>
<circle cx="226.20" cy="395.80" r="1.75" fill="#fff" stroke="#111" stroke-width="1.15"/>
<circle cx="231.50" cy="395.40" r="1.75" fill="#fff" stroke="#111" stroke-width="1.15"/>
<circle cx="235.40" cy="396.20" r="1.75" fill="#fff" stroke="#111" stroke-width="1.15"/>
<circle cx="222.70" cy="398.50" r="1.75" fill="#fff" stroke="#111" stroke-width="1.15"/>
<circle cx="228.50" cy="398.80" r="1.75" fill="#fff" stroke="#111" stroke-width="1.15"/>
<circle cx="233.50" cy="399.20" r="1.75" fill="#fff" stroke="#111" stroke-width="1.15"/>
<circle cx="237.30" cy="398.80" r="1.75" fill="#fff" stroke="#111" stroke-width="1.15"/>
<circle cx="240.40" cy="398.50" r="1.75" fill="#fff" stroke="#111" stroke-width="1.15"/>
<circle cx="244.20" cy="398.60" r="1.75" fill="#fff" stroke="#111" stroke-width="1.15"/>
<circle cx="265.80" cy="374.20" r="1.75" fill="#fff" stroke="#111" stroke-width="1.15"/>
<circle cx="271.10" cy="378.10" r="1.75" fill="#fff" stroke="#111" stroke-width="1.15"/>
<circle cx="276.20" cy="378.80" r="1.75" fill="#fff" stroke="#111" stroke-width="1.15"/>
<circle cx="281.20" cy="378.10" r="1.75" fill="#fff" stroke="#111" stroke-width="1.15"/>
<circle cx="286.50" cy="375.80" r="1.75" fill="#fff" stroke="#111" stroke-width="1.15"/>
<circle cx="265.80" cy="386.50" r="1.75" fill="#fff" stroke="#111" stroke-width="1.15"/>
<circle cx="286.50" cy="386.50" r="1.75" fill="#fff" stroke="#111" stroke-width="1.15"/>
<circle cx="271.10" cy="388.80" r="1.75" fill="#fff" stroke="#111" stroke-width="1.15"/>
<circle cx="281.20" cy="388.40" r="1.75" fill="#fff" stroke="#111" stroke-width="1.15"/>
<circle cx="276.20" cy="391.20" r="1.75" fill="#fff" stroke="#111" stroke-width="1.15"/>
<circle cx="271.10" cy="392.40" r="1.75" fill="#fff" stroke="#111" stroke-width="1.15"/>
<circle cx="281.20" cy="392.70" r="1.75" fill="#fff" stroke="#111" stroke-width="1.15"/>
<circle cx="276.20" cy="396.50" r="1.75" fill="#fff" stroke="#111" stroke-width="1.15"/>
<circle cx="313.50" cy="317.60" r="1.75" fill="#fff" stroke="#111" stroke-width="1.15"/>
<circle cx="308.10" cy="323.40" r="1.75" fill="#fff" stroke="#111" stroke-width="1.15"/>
<circle cx="318.80" cy="322.60" r="1.75" fill="#fff" stroke="#111" stroke-width="1.15"/>
<circle cx="323.90" cy="322.60" r="1.75" fill="#fff" stroke="#111" stroke-width="1.15"/>
<circle cx="323.90" cy="324.30" r="1.75" fill="#fff" stroke="#111" stroke-width="1.15"/>
<circle cx="313.50" cy="326.80" r="1.75" fill="#fff" stroke="#111" stroke-width="1.15"/>
<circle cx="318.80" cy="328.50" r="1.75" fill="#fff" stroke="#111" stroke-width="1.15"/>
<circle cx="318.80" cy="336.30" r="1.75" fill="#fff" stroke="#111" stroke-width="1.15"/>
<circle cx="318.80" cy="344.40" r="1.75" fill="#fff" stroke="#111" stroke-width="1.15"/>
<circle cx="318.80" cy="349.80" r="1.75" fill="#fff" stroke="#111" stroke-width="1.15"/>
<circle cx="318.80" cy="356.60" r="1.75" fill="#fff" stroke="#111" stroke-width="1.15"/>
<circle cx="323.90" cy="360.80" r="1.75" fill="#fff" stroke="#111" stroke-width="1.15"/>
<circle cx="318.80" cy="365.40" r="1.75" fill="#fff" stroke="#111" stroke-width="1.15"/>
<line x1="218.8" y1="396.5" x2="247.3" y2="396.5" stroke="#333" stroke-width="1.1"/>
<line x1="261.2" y1="384.5" x2="290" y2="384.5" stroke="#333" stroke-width="1.1"/>
<line x1="304.2" y1="336.3" x2="332.8" y2="336.3" stroke="#333" stroke-width="1.1"/>
<circle cx="401.50" cy="396.30" r="1.75" fill="#fff" stroke="#111" stroke-width="1.15"/>
<circle cx="403.05" cy="397.10" r="1.75" fill="#fff" stroke="#111" stroke-width="1.15"/>
<circle cx="404.60" cy="396.30" r="1.75" fill="#fff" stroke="#111" stroke-width="1.15"/>
<circle cx="406.15" cy="397.10" r="1.75" fill="#fff" stroke="#111" stroke-width="1.15"/>
<circle cx="407.70" cy="396.30" r="1.75" fill="#fff" stroke="#111" stroke-width="1.15"/>
<circle cx="409.25" cy="397.10" r="1.75" fill="#fff" stroke="#111" stroke-width="1.15"/>
<circle cx="410.80" cy="396.30" r="1.75" fill="#fff" stroke="#111" stroke-width="1.15"/>
<circle cx="412.35" cy="397.10" r="1.75" fill="#fff" stroke="#111" stroke-width="1.15"/>
<circle cx="413.90" cy="396.30" r="1.75" fill="#fff" stroke="#111" stroke-width="1.15"/>
<circle cx="415.45" cy="397.10" r="1.75" fill="#fff" stroke="#111" stroke-width="1.15"/>
<circle cx="417.00" cy="396.30" r="1.75" fill="#fff" stroke="#111" stroke-width="1.15"/>
<circle cx="418.55" cy="397.10" r="1.75" fill="#fff" stroke="#111" stroke-width="1.15"/>
<circle cx="420.10" cy="396.30" r="1.75" fill="#fff" stroke="#111" stroke-width="1.15"/>
<circle cx="421.65" cy="397.10" r="1.75" fill="#fff" stroke="#111" stroke-width="1.15"/>
<circle cx="423.20" cy="396.30" r="1.75" fill="#fff" stroke="#111" stroke-width="1.15"/>
<circle cx="424.75" cy="397.10" r="1.75" fill="#fff" stroke="#111" stroke-width="1.15"/>
<circle cx="426.30" cy="396.30" r="1.75" fill="#fff" stroke="#111" stroke-width="1.15"/>
<circle cx="409.50" cy="395.20" r="1.75" fill="#fff" stroke="#111" stroke-width="1.15"/>
<circle cx="414.00" cy="395.00" r="1.75" fill="#fff" stroke="#111" stroke-width="1.15"/>
<circle cx="419.50" cy="395.20" r="1.75" fill="#fff" stroke="#111" stroke-width="1.15"/>
<circle cx="424.00" cy="395.30" r="1.75" fill="#fff" stroke="#111" stroke-width="1.15"/>
<circle cx="455.10" cy="373.40" r="1.75" fill="#fff" stroke="#111" stroke-width="1.15"/>
<circle cx="455.10" cy="381.60" r="1.75" fill="#fff" stroke="#111" stroke-width="1.15"/>
<circle cx="460.20" cy="379.70" r="1.75" fill="#fff" stroke="#111" stroke-width="1.15"/>
<circle cx="450.10" cy="387.00" r="1.75" fill="#fff" stroke="#111" stroke-width="1.15"/>
<circle cx="455.10" cy="387.00" r="1.75" fill="#fff" stroke="#111" stroke-width="1.15"/>
<circle cx="445.10" cy="390.20" r="1.75" fill="#fff" stroke="#111" stroke-width="1.15"/>
<circle cx="450.10" cy="391.00" r="1.75" fill="#fff" stroke="#111" stroke-width="1.15"/>
<circle cx="455.10" cy="390.20" r="1.75" fill="#fff" stroke="#111" stroke-width="1.15"/>
<circle cx="460.20" cy="391.80" r="1.75" fill="#fff" stroke="#111" stroke-width="1.15"/>
<circle cx="462.70" cy="389.70" r="1.75" fill="#fff" stroke="#111" stroke-width="1.15"/>
<circle cx="465.20" cy="391.00" r="1.75" fill="#fff" stroke="#111" stroke-width="1.15"/>
<circle cx="455.10" cy="393.90" r="1.75" fill="#fff" stroke="#111" stroke-width="1.15"/>
<circle cx="495.80" cy="356.20" r="1.75" fill="#fff" stroke="#111" stroke-width="1.15"/>
<circle cx="495.80" cy="361.90" r="1.75" fill="#fff" stroke="#111" stroke-width="1.15"/>
<circle cx="501.10" cy="361.90" r="1.75" fill="#fff" stroke="#111" stroke-width="1.15"/>
<circle cx="490.70" cy="369.50" r="1.75" fill="#fff" stroke="#111" stroke-width="1.15"/>
<circle cx="495.80" cy="368.80" r="1.75" fill="#fff" stroke="#111" stroke-width="1.15"/>
<circle cx="501.10" cy="369.50" r="1.75" fill="#fff" stroke="#111" stroke-width="1.15"/>
<circle cx="495.80" cy="374.20" r="1.75" fill="#fff" stroke="#111" stroke-width="1.15"/>
<circle cx="490.70" cy="382.20" r="1.75" fill="#fff" stroke="#111" stroke-width="1.15"/>
<circle cx="495.80" cy="383.40" r="1.75" fill="#fff" stroke="#111" stroke-width="1.15"/>
<circle cx="490.70" cy="390.30" r="1.75" fill="#fff" stroke="#111" stroke-width="1.15"/>
<circle cx="495.80" cy="393.50" r="1.75" fill="#fff" stroke="#111" stroke-width="1.15"/>
<circle cx="501.10" cy="392.60" r="1.75" fill="#fff" stroke="#111" stroke-width="1.15"/>
<circle cx="506.20" cy="390.30" r="1.75" fill="#fff" stroke="#111" stroke-width="1.15"/>
<line x1="398" y1="396.3" x2="430" y2="396.3" stroke="#333" stroke-width="1.1"/>
<line x1="440.9" y1="387.2" x2="467.7" y2="387.2" stroke="#333" stroke-width="1.1"/>
<line x1="481.9" y1="375.8" x2="508.9" y2="375.8" stroke="#333" stroke-width="1.1"/>
</svg></body></html>
